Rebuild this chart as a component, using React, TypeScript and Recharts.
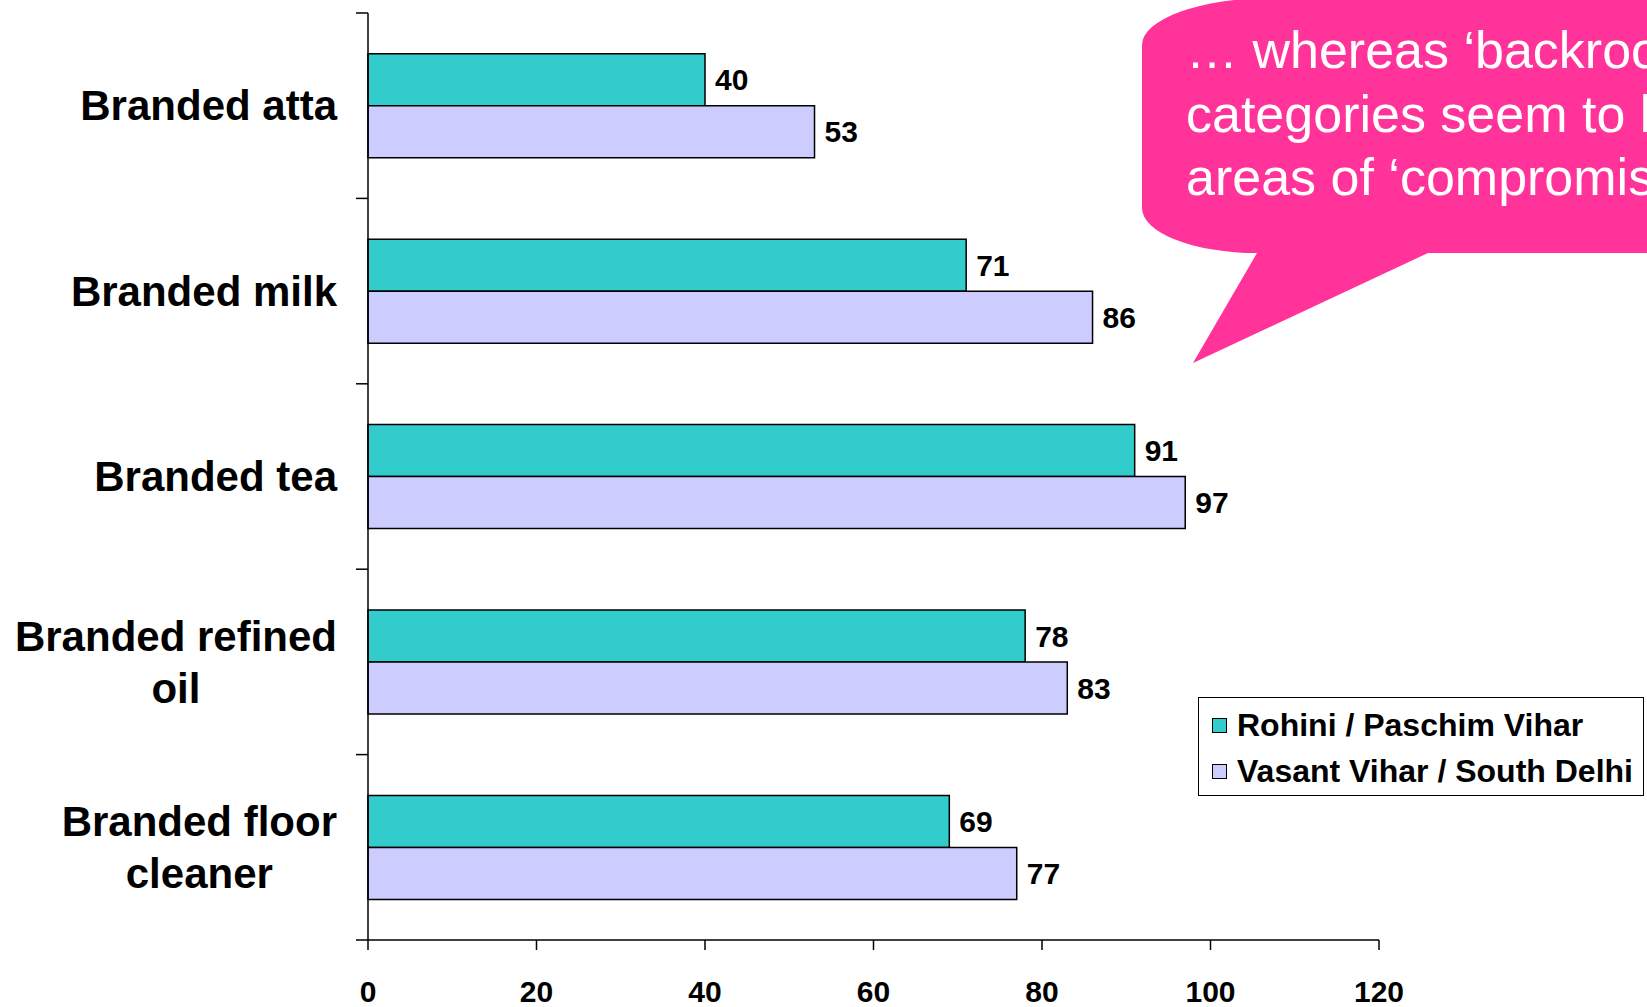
import React from 'react';
import { BarChart, Bar, XAxis, YAxis, Legend, LabelList } from 'recharts';

const categories = [
  'Branded atta',
  'Branded milk',
  'Branded tea',
  'Branded refined oil',
  'Branded floor cleaner',
];
// how the category names wrap on the axis
const categoryLines = [
  ['Branded atta'],
  ['Branded milk'],
  ['Branded tea'],
  ['Branded refined', 'oil'],
  ['Branded floor', 'cleaner'],
];
const rohini = [40, 71, 91, 78, 69];
const vasant = [53, 86, 97, 83, 77];
const seriesNames = ['Rohini / Paschim Vihar', 'Vasant Vihar / South Delhi'];
const xTicks = [0, 20, 40, 60, 80, 100, 120];
const calloutLines = ['… whereas ‘backroom’', 'categories seem to be', 'areas of ‘compromise’'];

const FONT = "'Liberation Sans', Arial, Helvetica, sans-serif";
const TEAL = '#33CCCC';
const LAVENDER = '#CCCCFF';
const PINK = '#FF3399';

const W = 1647;
const H = 1007;
const MARGIN = { top: 13, right: 268, bottom: 0, left: 0 };
const X_AXIS_H = 67;
const Y_AXIS_W = 368;
const LABEL_GAP = 31;
const BAND = (H - MARGIN.top - MARGIN.bottom - X_AXIS_H) / categories.length;

const data = categories.map((name, i) => ({
  name,
  rohini: rohini[i],
  vasant: vasant[i],
}));

let measureCtx: CanvasRenderingContext2D | null = null;
const measure = (text: string, font: string) => {
  if (!measureCtx) measureCtx = document.createElement('canvas').getContext('2d');
  if (!measureCtx) return text.length * 20;
  measureCtx.font = font;
  return measureCtx.measureText(text).width;
};

// category label plus the small tick marks that sit between categories
const CategoryTick = ({ x, y, payload, index }: any) => {
  const idx = categories.indexOf(payload.value);
  const lines = idx >= 0 ? categoryLines[idx] : [String(payload.value)];
  const widths = lines.map((l) => measure(l, `bold 42px ${FONT}`));
  const blockW = Math.max(...widths);
  const cx = x - blockW / 2;
  const lineH = 52;
  const axisX = x + LABEL_GAP;
  const isLast = idx === categories.length - 1;
  return (
    <g>
      <line x1={axisX - 12} x2={axisX} y1={y - BAND / 2} y2={y - BAND / 2} stroke="#000" strokeWidth={1.5} />
      {isLast && (
        <line x1={axisX - 12} x2={axisX} y1={y + BAND / 2} y2={y + BAND / 2} stroke="#000" strokeWidth={1.5} />
      )}
      {lines.map((line, i) => (
        <text
          key={line}
          x={cx}
          y={y + (i - (lines.length - 1) / 2) * lineH}
          dy="0.35em"
          textAnchor="middle"
          fontFamily={FONT}
          fontWeight="bold"
          fontSize={42}
          fill="#000"
        >
          {line}
        </text>
      ))}
    </g>
  );
};

const ValueTick = ({ x, y, payload }: any) => (
  <text x={x} y={y} textAnchor="middle" fontFamily={FONT} fontWeight="bold" fontSize={30} fill="#000">
    {payload.value}
  </text>
);

const renderLegend = (props: any) => {
  const { payload } = props;
  return (
    <div
      style={{
        border: '1.5px solid #000',
        background: '#fff',
        height: 99,
        boxSizing: 'border-box',
        paddingTop: 4,
        fontFamily: FONT,
        fontWeight: 'bold',
        fontSize: 32,
        color: '#000',
      }}
    >
      {(payload || []).map((entry: any) => (
        <div key={entry.value} style={{ display: 'flex', alignItems: 'center', height: 46 }}>
          <span
            style={{
              display: 'inline-block',
              width: 15,
              height: 15,
              marginLeft: 13,
              marginRight: 10,
              background: entry.color,
              border: '1px solid #000',
              boxSizing: 'border-box',
            }}
          />
          <span style={{ whiteSpace: 'nowrap', lineHeight: 1 }}>{entry.value}</span>
        </div>
      ))}
    </div>
  );
};

const Callout = () => (
  <svg
    width={W}
    height={H}
    style={{ position: 'absolute', left: 0, top: 0, pointerEvents: 'none', overflow: 'hidden' }}
  >
    <path
      d="M 1272 -2 A 130 47 0 0 0 1142 45 L 1142 208 A 115 45 0 0 0 1257 253 L 1193 363 L 1428 253 L 1660 253 L 1660 -2 Z"
      fill={PINK}
    />
    {calloutLines.map((line, i) => (
      <text key={line} x={1186} y={68 + i * 63.5} fontFamily={FONT} fontSize={52} fill="#fff">
        {line}
      </text>
    ))}
  </svg>
);

export default function App() {
  return (
    <div
      style={{
        position: 'absolute',
        left: 0,
        top: 0,
        width: W,
        height: H,
        overflow: 'hidden',
        background: '#fff',
      }}
    >
      <BarChart
        width={W}
        height={H}
        data={data}
        layout="vertical"
        margin={MARGIN}
        barCategoryGap="22%"
        barGap={0}
        style={{ fontFamily: FONT }}
      >
        <XAxis
          type="number"
          domain={[0, 120]}
          ticks={xTicks}
          interval={0}
          height={X_AXIS_H}
          stroke="#000"
          strokeWidth={1.5}
          tickSize={10}
          tickMargin={52}
          tick={<ValueTick />}
        />
        <YAxis
          type="category"
          dataKey="name"
          width={Y_AXIS_W}
          stroke="#000"
          strokeWidth={1.5}
          tickLine={false}
          tickSize={0}
          tickMargin={LABEL_GAP}
          interval={0}
          tick={<CategoryTick />}
        />
        <Legend
          layout="vertical"
          align="center"
          verticalAlign="middle"
          content={renderLegend}
          wrapperStyle={{ left: 1198, top: 697, width: 446, height: 99 }}
        />
        <Bar
          dataKey="rohini"
          name={seriesNames[0]}
          fill={TEAL}
          stroke="#000"
          strokeWidth={1.5}
          isAnimationActive={false}
        >
          <LabelList
            dataKey="rohini"
            position="right"
            offset={10}
            fill="#000"
            stroke="none"
            fontSize={30}
            fontWeight="bold"
            fontFamily={FONT}
          />
        </Bar>
        <Bar
          dataKey="vasant"
          name={seriesNames[1]}
          fill={LAVENDER}
          stroke="#000"
          strokeWidth={1.5}
          isAnimationActive={false}
        >
          <LabelList
            dataKey="vasant"
            position="right"
            offset={10}
            fill="#000"
            stroke="none"
            fontSize={30}
            fontWeight="bold"
            fontFamily={FONT}
          />
        </Bar>
      </BarChart>
      <Callout />
    </div>
  );
}
